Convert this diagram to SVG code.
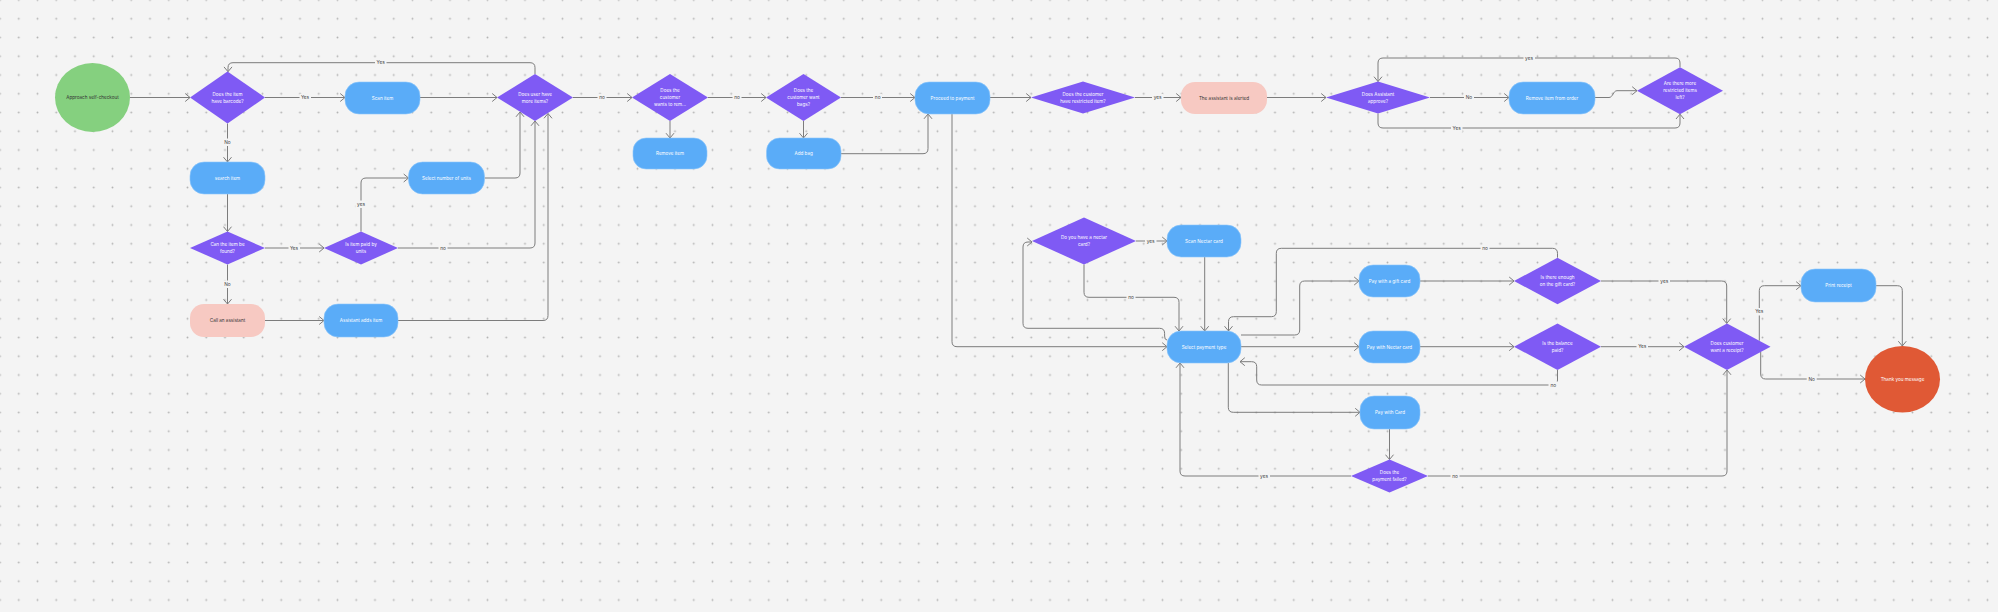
<svg xmlns="http://www.w3.org/2000/svg" width="1998" height="612" viewBox="0 0 1998 612">
<style>
.bg{fill:#f4f4f4}
.dia{fill:#7f5af4}
.blue{fill:#5aacf8;stroke:#8cc6fb;stroke-width:0.6}
.pink{fill:#f7c9c2}
.green{fill:#85d07f}
.orange{fill:#e05935}
text{font-family:Inter,"Liberation Sans",sans-serif;font-size:4.6px;text-anchor:middle}
.w{fill:#ffffff}
.d{fill:#333333}
.c{fill:none;stroke:#7c7c7c;stroke-width:1}
.ca{fill:none;stroke:#7c7c7c;stroke-width:1;marker-end:url(#arr)}
.lb{fill:#f4f4f4}
.lt{fill:#444444;font-size:4.8px}
</style>
<defs>
<pattern id="dots" x="9.375" y="9.375" width="18.75" height="18.75" patternUnits="userSpaceOnUse">
<circle cx="9.375" cy="9.375" r="0.95" fill="#b4b4b4"/>
</pattern>
<marker id="arr" markerUnits="userSpaceOnUse" markerWidth="10" markerHeight="10" refX="6" refY="5" orient="auto">
<path d="M1.2,1 L6,5 L1.2,9" fill="none" stroke="#7c7c7c" stroke-width="1"/>
</marker>
</defs>
<rect class="bg" x="0" y="0" width="1998" height="612"/>
<rect x="0" y="0" width="1998" height="612" fill="url(#dots)"/>

<g id="connectors">
<path class="ca" d="M130,97.5 H190"/>
<path class="ca" d="M265,97.5 H345"/>
<path class="ca" d="M227.5,123.5 V162"/>
<path class="ca" d="M420,97.5 H497"/>
<path class="ca" d="M535,74 V67.7 Q535,62.7 530,62.7 H233 Q228,62.7 228,67.7 V71.7"/>
<path class="ca" d="M227.5,194 V231.5"/>
<path class="ca" d="M265,248 H324"/>
<path class="ca" d="M361,231.5 V183 Q361,178 366,178 H408.5"/>
<path class="ca" d="M484.5,178 H515 Q520,178 520,173 V112"/>
<path class="ca" d="M398,248 H530 Q535,248 535,243 V121"/>
<path class="ca" d="M227.5,264.5 V304"/>
<path class="ca" d="M265,320.5 H324"/>
<path class="ca" d="M398,320.5 H543 Q548,320.5 548,315.5 V113.5"/>
<path class="ca" d="M573,97.5 H632"/>
<path class="ca" d="M670,121 V138"/>
<path class="ca" d="M708,97.5 H766"/>
<path class="ca" d="M803.5,121 V138"/>
<path class="ca" d="M841,97.5 H915"/>
<path class="ca" d="M841,153.7 H923 Q928,153.7 928,148.7 V114"/>
<path class="ca" d="M990,97.5 H1031"/>
<path class="ca" d="M1135,97.5 H1181"/>
<path class="ca" d="M1267,97.5 H1326"/>
<path class="ca" d="M1430,97.5 H1509"/>
<path class="ca" d="M1595,97.5 H1609 C1613,97.5 1613,90.7 1617,90.7 H1637"/>
<path class="ca" d="M1680,67.2 V63 Q1680,58 1675,58 H1383 Q1378,58 1378,63 V81.5"/>
<path class="ca" d="M1378,113.5 V123 Q1378,128 1383,128 H1675 Q1680,128 1680,123 V114.2"/>
<path class="ca" d="M952,114 V341.7 Q952,346.7 957,346.7 H1167"/>
<path class="ca" d="M1167,340 Q1164.6,340 1164.6,336 V333.3 Q1164.6,328.3 1159.6,328.3 H1028 Q1023,328.3 1023,323.3 V247 Q1023,242 1028,242 H1032"/>
<path class="ca" d="M1084,264.5 V292.3 Q1084,297.3 1089,297.3 H1174 Q1179,297.3 1179,302.3 V331"/>
<path class="ca" d="M1136,241 H1167"/>
<path class="ca" d="M1204.7,257 V331"/>
<path class="ca" d="M1557.5,257.7 V253.3 Q1557.5,248.3 1552.5,248.3 H1281.3 Q1276.3,248.3 1276.3,253.3 V311.7 Q1276.3,316.7 1271.3,316.7 H1233.5 Q1228.5,316.7 1228.5,321.7 V331"/>
<path class="ca" d="M1241,335 H1294.7 Q1299.7,335 1299.7,330 V286 Q1299.7,281 1304.7,281 H1359"/>
<path class="ca" d="M1420,281 H1514"/>
<path class="ca" d="M1241,346.7 H1359"/>
<path class="ca" d="M1420,346.7 H1514"/>
<path class="ca" d="M1601,281 H1721.7 Q1726.7,281 1726.7,286 V323.4"/>
<path class="ca" d="M1601,346.7 H1684"/>
<path class="ca" d="M1557.5,370 V380 Q1557.5,385 1552.5,385 H1261.7 Q1256.7,385 1256.7,380 V366.7 Q1256.7,361.7 1251.7,361.7 H1240"/>
<path class="ca" d="M1228.3,363 V407.3 Q1228.3,412.3 1233.3,412.3 H1360"/>
<path class="ca" d="M1389.5,429 V459.5"/>
<path class="ca" d="M1351,476 H1185 Q1180,476 1180,471 V363"/>
<path class="ca" d="M1428,476 H1722 Q1727,476 1727,471 V370"/>
<path class="ca" d="M1759.3,340.7 V290.7 Q1759.3,285.7 1764.3,285.7 H1801"/>
<path class="ca" d="M1876,285.7 H1897.3 Q1902.3,285.7 1902.3,290.7 V346"/>
<path class="ca" d="M1760.7,352 V374 Q1760.7,379 1765.7,379 H1865"/>
<g id="labels">
<rect class="lb" x="375" y="59" width="11.5" height="7.5"/><text class="lt" x="380.7" y="64.4">Yes</text>
<rect class="lb" x="299.5" y="94" width="11.5" height="7.5"/><text class="lt" x="305" y="99.2">Yes</text>
<rect class="lb" x="222.5" y="138.5" width="10" height="7.5"/><text class="lt" x="227.5" y="143.8">No</text>
<rect class="lb" x="288.5" y="244.5" width="11.5" height="7.5"/><text class="lt" x="294" y="249.7">Yes</text>
<rect class="lb" x="355.5" y="200.5" width="11.5" height="7.5"/><text class="lt" x="361" y="205.7">yes</text>
<rect class="lb" x="438.5" y="244.5" width="9" height="7.5"/><text class="lt" x="443" y="249.7">no</text>
<rect class="lb" x="222.5" y="280.5" width="10" height="7.5"/><text class="lt" x="227.5" y="285.7">No</text>
<rect class="lb" x="597.5" y="94" width="9" height="7.5"/><text class="lt" x="602" y="99.2">no</text>
<rect class="lb" x="732.5" y="94" width="9" height="7.5"/><text class="lt" x="737" y="99.2">no</text>
<rect class="lb" x="873" y="94" width="9" height="7.5"/><text class="lt" x="877.7" y="99.2">no</text>
<rect class="lb" x="1152" y="94" width="11.5" height="7.5"/><text class="lt" x="1157.7" y="99.2">yes</text>
<rect class="lb" x="1464" y="94" width="10" height="7.5"/><text class="lt" x="1469" y="99.2">No</text>
<rect class="lb" x="1523.5" y="54.5" width="11.5" height="7.5"/><text class="lt" x="1529" y="59.7">yes</text>
<rect class="lb" x="1451" y="124.5" width="11.5" height="7.5"/><text class="lt" x="1456.7" y="129.7">Yes</text>
<rect class="lb" x="1145" y="237.5" width="11.5" height="7.5"/><text class="lt" x="1150.6" y="242.7">yes</text>
<rect class="lb" x="1126.5" y="293.8" width="9" height="7.5"/><text class="lt" x="1131" y="299">no</text>
<rect class="lb" x="1480.5" y="244.8" width="9" height="7.5"/><text class="lt" x="1485" y="250">no</text>
<rect class="lb" x="1658.5" y="277.5" width="11.5" height="7.5"/><text class="lt" x="1664.3" y="282.7">yes</text>
<rect class="lb" x="1636.5" y="343" width="11.5" height="7.5"/><text class="lt" x="1642.3" y="348.4">Yes</text>
<rect class="lb" x="1548.5" y="381.5" width="9.5" height="7.5"/><text class="lt" x="1553.3" y="386.7">no</text>
<rect class="lb" x="1753.5" y="308" width="11.5" height="7.5"/><text class="lt" x="1759.3" y="313.2">Yes</text>
<rect class="lb" x="1806.7" y="375.5" width="10" height="7.5"/><text class="lt" x="1811.7" y="380.7">No</text>
<rect class="lb" x="1258.5" y="472.5" width="11.5" height="7.5"/><text class="lt" x="1264" y="477.7">yes</text>
<rect class="lb" x="1450.5" y="472.5" width="9" height="7.5"/><text class="lt" x="1455" y="477.7">no</text>
</g>
</g>

<g id="approach"><ellipse class="green" cx="92.5" cy="97.5" rx="37.5" ry="34.5"/><text class="d" x="92.5" y="99.1">Approach self-checkout</text></g>
<g id="has-barcode"><polygon class="dia" points="190,97.5 227.5,71.5 265,97.5 227.5,123.5"/><text class="w" x="227.5" y="95.6">Does the item<tspan x="227.5" dy="7">have barcode?</tspan></text></g>
<g id="scan-item"><rect class="blue" x="345" y="82" width="75" height="32" rx="14"/><text class="w" x="382.5" y="99.6">Scan item</text></g>
<g id="more-items"><polygon class="dia" points="497,97.5 535,74 573,97.5 535,121"/><text class="w" x="535" y="95.6">Does user have<tspan x="535" dy="7">more items?</tspan></text></g>
<g id="wants-remove"><polygon class="dia" points="632,97.5 670,74 708,97.5 670,121"/><text class="w" x="670" y="92.1">Does the<tspan x="670" dy="7">customer</tspan><tspan x="670" dy="7">wants to rem...</tspan></text></g>
<g id="remove-item"><rect class="blue" x="633" y="138" width="74" height="31" rx="13"/><text class="w" x="670" y="155.1">Remove item</text></g>
<g id="want-bags"><polygon class="dia" points="766,97.5 803.5,74 841,97.5 803.5,121"/><text class="w" x="803.5" y="92.1">Does the<tspan x="803.5" dy="7">customer want</tspan><tspan x="803.5" dy="7">bags?</tspan></text></g>
<g id="add-bag"><rect class="blue" x="766.5" y="138" width="74.5" height="31" rx="13"/><text class="w" x="803.7" y="155.1">Add bag</text></g>
<g id="proceed"><rect class="blue" x="915" y="82" width="75" height="32" rx="14"/><text class="w" x="952.5" y="99.6">Proceed to payment</text></g>
<g id="restricted"><polygon class="dia" points="1031,97.5 1083,81.5 1135,97.5 1083,113.5"/><text class="w" x="1083" y="95.6">Does the customer<tspan x="1083" dy="7">have restricted item?</tspan></text></g>
<g id="alerted"><rect class="pink" x="1181" y="82" width="86" height="32" rx="14"/><text class="d" x="1224" y="99.6">The assistant is alerted</text></g>
<g id="approve"><polygon class="dia" points="1326,97.5 1378,81.5 1430,97.5 1378,113.5"/><text class="w" x="1378" y="95.6">Does Assistant<tspan x="1378" dy="7">approve?</tspan></text></g>
<g id="remove-from-order"><rect class="blue" x="1509" y="82" width="86" height="32" rx="14"/><text class="w" x="1552" y="99.6">Remove item from order</text></g>
<g id="more-restricted"><polygon class="dia" points="1637,90.7 1680,67.2 1723,90.7 1680,114.2"/><text class="w" x="1680" y="85.3">Are there more<tspan x="1680" dy="7">restricted items</tspan><tspan x="1680" dy="7">left?</tspan></text></g>
<g id="search-item"><rect class="blue" x="190" y="162" width="75" height="32" rx="14"/><text class="w" x="227.5" y="179.6">search item</text></g>
<g id="select-units"><rect class="blue" x="408.5" y="162" width="76" height="32" rx="14"/><text class="w" x="446.5" y="179.6">Select number of units</text></g>
<g id="can-find"><polygon class="dia" points="190,248 227.5,231.5 265,248 227.5,264.5"/><text class="w" x="227.5" y="246.1">Can the item be<tspan x="227.5" dy="7">found?</tspan></text></g>
<g id="paid-units"><polygon class="dia" points="324,248 361,231.5 398,248 361,264.5"/><text class="w" x="361" y="246.1">Is item paid by<tspan x="361" dy="7">units</tspan></text></g>
<g id="call-assistant"><rect class="pink" x="190" y="304" width="75" height="33" rx="14"/><text class="d" x="227.5" y="322.1">Call an assistant</text></g>
<g id="assistant-adds"><rect class="blue" x="324" y="304" width="74" height="33" rx="14"/><text class="w" x="361" y="322.1">Assistant adds item</text></g>
<g id="nectar-q"><polygon class="dia" points="1032,241 1084,217.5 1136,241 1084,264.5"/><text class="w" x="1084" y="239.1">Do you have a nectar<tspan x="1084" dy="7">card?</tspan></text></g>
<g id="scan-nectar"><rect class="blue" x="1167" y="225" width="74" height="32" rx="14"/><text class="w" x="1204" y="242.6">Scan Nectar card</text></g>
<g id="select-payment"><rect class="blue" x="1167" y="331" width="74" height="32" rx="14"/><text class="w" x="1204" y="348.6">Select payment type</text></g>
<g id="pay-gift"><rect class="blue" x="1359" y="265" width="61" height="32" rx="14"/><text class="w" x="1389.5" y="282.6">Pay with a gift card</text></g>
<g id="pay-nectar"><rect class="blue" x="1359" y="331" width="61" height="32" rx="14"/><text class="w" x="1389.5" y="348.6">Pay with Nectar card</text></g>
<g id="pay-card"><rect class="blue" x="1360" y="396" width="60" height="33" rx="14"/><text class="w" x="1390" y="414.1">Pay with Card</text></g>
<g id="enough-gift"><polygon class="dia" points="1514,281 1557.5,257.7 1601,281 1557.5,304.3"/><text class="w" x="1557.5" y="279.1">Is there enough<tspan x="1557.5" dy="7">on the gift card?</tspan></text></g>
<g id="balance-paid"><polygon class="dia" points="1514,346.7 1557.5,323.4 1601,346.7 1557.5,370"/><text class="w" x="1557.5" y="344.8">Is the balance<tspan x="1557.5" dy="7">paid?</tspan></text></g>
<g id="want-receipt"><polygon class="dia" points="1684,346.7 1727,323.4 1770.5,346.7 1727,370"/><text class="w" x="1727" y="344.8">Does customer<tspan x="1727" dy="7">want a receipt?</tspan></text></g>
<g id="payment-failed"><polygon class="dia" points="1351,476 1389.5,459.5 1428,476 1389.5,492.5"/><text class="w" x="1389.5" y="474.1">Does the<tspan x="1389.5" dy="7">payment failed?</tspan></text></g>
<g id="print-receipt"><rect class="blue" x="1801" y="269" width="75" height="33" rx="14"/><text class="w" x="1838.5" y="287.1">Print receipt</text></g>
<g id="thank-you"><ellipse class="orange" cx="1902.5" cy="379.3" rx="37.5" ry="33.3"/><text class="w" x="1902.5" y="380.9">Thank you message</text></g>
</svg>
